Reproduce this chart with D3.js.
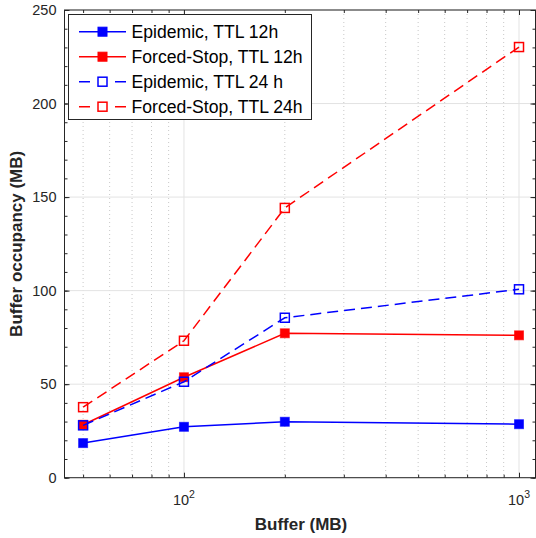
<!DOCTYPE html>
<html>
<head>
<meta charset="utf-8">
<script src="https://cdn.jsdelivr.net/npm/d3@7"></script>
<style>
  body { margin: 0; background: #fff; }
  svg { display: block; font-family: "Liberation Sans", Arial, sans-serif; }
</style>
</head>
<body>
<svg id="chart" width="536" height="538"></svg>
<script>
// Buffer sizes (MB) and measured occupancy per scheme
const bufferSizes = [50, 100, 200, 1000];
const epidemic12 = [18.5, 27.2, 29.9, 28.6];
const forcedStop12 = [28.3, 53.7, 77.2, 76.1];
const epidemic24 = [28.0, 51.3, 85.5, 100.7];
const forcedStop24 = [37.7, 73.2, 144.2, 230.2];

const seriesNames = ["Epidemic, TTL 12h", "Forced-Stop, TTL 12h", "Epidemic, TTL 24 h", "Forced-Stop, TTL 24h"];
const seriesColors = ["#0000ff", "#ff0000", "#0000ff", "#ff0000"];
const seriesDashed = [false, false, true, true];
const seriesFilled = [true, true, false, false];
const seriesValues = [epidemic12, forcedStop12, epidemic24, forcedStop24];

const yTicks = [0, 50, 100, 150, 200, 250];
const xMajorTicks = [100, 1000];
const xMinorTicks = [50, 60, 70, 80, 90, 200, 300, 400, 500, 600, 700, 800, 900];
const yMinorTicks = d3.range(0, 251, 10);

const svg = d3.select("#chart");
const plotLeft = 64.5, plotRight = 535.5, plotTop = 10, plotBottom = 477.7;

const x = d3.scaleLog().domain([44, 1120]).range([plotLeft, plotRight]);
const y = d3.scaleLinear().domain([0, 250]).range([plotBottom, plotTop]);

const axisColor = "#262626";

// grid
const grid = svg.append("g");
grid.selectAll(".xminor").data(xMinorTicks).join("line")
  .attr("x1", d => x(d)).attr("x2", d => x(d)).attr("y1", plotTop).attr("y2", plotBottom)
  .attr("stroke", "#c8c8c8").attr("stroke-width", 1).attr("stroke-dasharray", "1,3");
grid.selectAll(".xmajor").data(xMajorTicks).join("line")
  .attr("x1", d => x(d)).attr("x2", d => x(d)).attr("y1", plotTop).attr("y2", plotBottom)
  .attr("stroke", "#e3e3e3").attr("stroke-width", 1);
grid.selectAll(".ymajor").data(yTicks).join("line")
  .attr("x1", plotLeft).attr("x2", plotRight).attr("y1", d => y(d)).attr("y2", d => y(d))
  .attr("stroke", "#e3e3e3").attr("stroke-width", 1);

// axes
const noLabel = () => "";
const gx = svg.append("g").attr("transform", `translate(0,${plotBottom})`)
  .call(d3.axisBottom(x).tickValues(xMajorTicks).tickSize(-5).tickFormat(noLabel));
const gxMinor = svg.append("g").attr("transform", `translate(0,${plotBottom})`)
  .call(d3.axisBottom(x).tickValues(xMinorTicks).tickSize(-3).tickFormat(noLabel));
const gxTop = svg.append("g").attr("transform", `translate(0,${plotTop})`)
  .call(d3.axisTop(x).tickValues(xMajorTicks).tickSize(-5).tickFormat(noLabel));
const gxTopMinor = svg.append("g").attr("transform", `translate(0,${plotTop})`)
  .call(d3.axisTop(x).tickValues(xMinorTicks).tickSize(-3).tickFormat(noLabel));
const gy = svg.append("g").attr("transform", `translate(${plotLeft},0)`)
  .call(d3.axisLeft(y).tickValues(yTicks).tickSize(-5).tickPadding(8));
const gyMinor = svg.append("g").attr("transform", `translate(${plotLeft},0)`)
  .call(d3.axisLeft(y).tickValues(yMinorTicks).tickSize(-3).tickFormat(""));
const gyRight = svg.append("g").attr("transform", `translate(${plotRight},0)`)
  .call(d3.axisRight(y).tickValues(yTicks).tickSize(-5).tickFormat(""));
const gyRightMinor = svg.append("g").attr("transform", `translate(${plotRight},0)`)
  .call(d3.axisRight(y).tickValues(yMinorTicks).tickSize(-3).tickFormat(""));

[gx, gxMinor, gxTop, gxTopMinor, gy, gyMinor, gyRight, gyRightMinor].forEach(g => {
  g.select(".domain").remove();
  g.selectAll("line").attr("stroke", axisColor);
  g.selectAll("text").attr("fill", axisColor).style("font-size", "14.5px")
    .style("font-family", "'Liberation Sans', Arial, sans-serif");
});

// box
svg.append("rect").attr("x", plotLeft).attr("y", plotTop)
  .attr("width", plotRight - plotLeft).attr("height", plotBottom - plotTop)
  .attr("fill", "none").attr("stroke", axisColor).attr("stroke-width", 1);

// power-of-ten labels
const xl = svg.append("g");
xMajorTicks.forEach(v => {
  const t = xl.append("text").attr("x", x(v)).attr("y", 505)
    .attr("text-anchor", "middle").attr("fill", axisColor).style("font-size", "14.5px");
  t.append("tspan").text("10");
  t.append("tspan").attr("dy", -7).style("font-size", "10.5px").text(Math.round(Math.log10(v)));
});

// axis titles
svg.append("text").attr("x", 301).attr("y", 530).attr("text-anchor", "middle")
  .attr("font-weight", "bold").style("font-size", "17px").attr("fill", axisColor).text("Buffer (MB)");
svg.append("text").attr("transform", `translate(22,${(plotTop + plotBottom) / 2}) rotate(-90)`)
  .attr("text-anchor", "middle").attr("font-weight", "bold").style("font-size", "17px")
  .attr("fill", axisColor).text("Buffer occupancy (MB)");

// series
const line = d3.line().x((d, i) => x(bufferSizes[i])).y(d => y(d));
const ms = 9;
seriesValues.forEach((vals, k) => {
  const g = svg.append("g");
  g.append("path").datum(vals).attr("d", line).attr("fill", "none")
    .attr("stroke", seriesColors[k]).attr("stroke-width", 1.5)
    .attr("stroke-dasharray", seriesDashed[k] ? "11,6" : null);
  g.selectAll("rect").data(vals).join("rect")
    .attr("x", (d, i) => x(bufferSizes[i]) - ms / 2).attr("y", d => y(d) - ms / 2)
    .attr("width", ms).attr("height", ms)
    .attr("fill", seriesFilled[k] ? seriesColors[k] : "none")
    .attr("stroke", seriesColors[k]).attr("stroke-width", seriesFilled[k] ? 1 : 1.5)
    .attr("stroke-opacity", seriesFilled[k] ? 0.6 : 1);
});

// legend
const lg = svg.append("g");
lg.append("rect").attr("x", 68.5).attr("y", 14.5).attr("width", 243).attr("height", 105)
  .attr("fill", "#fff").attr("stroke", axisColor).attr("stroke-width", 1);
seriesNames.forEach((name, k) => {
  const cy = 31.7 + k * 25;
  lg.append("line").attr("x1", 79).attr("x2", 126).attr("y1", cy).attr("y2", cy)
    .attr("stroke", seriesColors[k]).attr("stroke-width", 1.5)
    .attr("stroke-dasharray", seriesDashed[k] ? "11,25" : null);
  lg.append("rect").attr("x", 102.5 - ms / 2).attr("y", cy - ms / 2).attr("width", ms).attr("height", ms)
    .attr("fill", seriesFilled[k] ? seriesColors[k] : "#fff")
    .attr("stroke", seriesColors[k]).attr("stroke-width", seriesFilled[k] ? 1 : 1.5);
  lg.append("text").attr("x", 131.5).attr("y", cy + 6.3).style("font-size", "17.6px")
    .attr("fill", "#000").text(name);
});
</script>
</body>
</html>
